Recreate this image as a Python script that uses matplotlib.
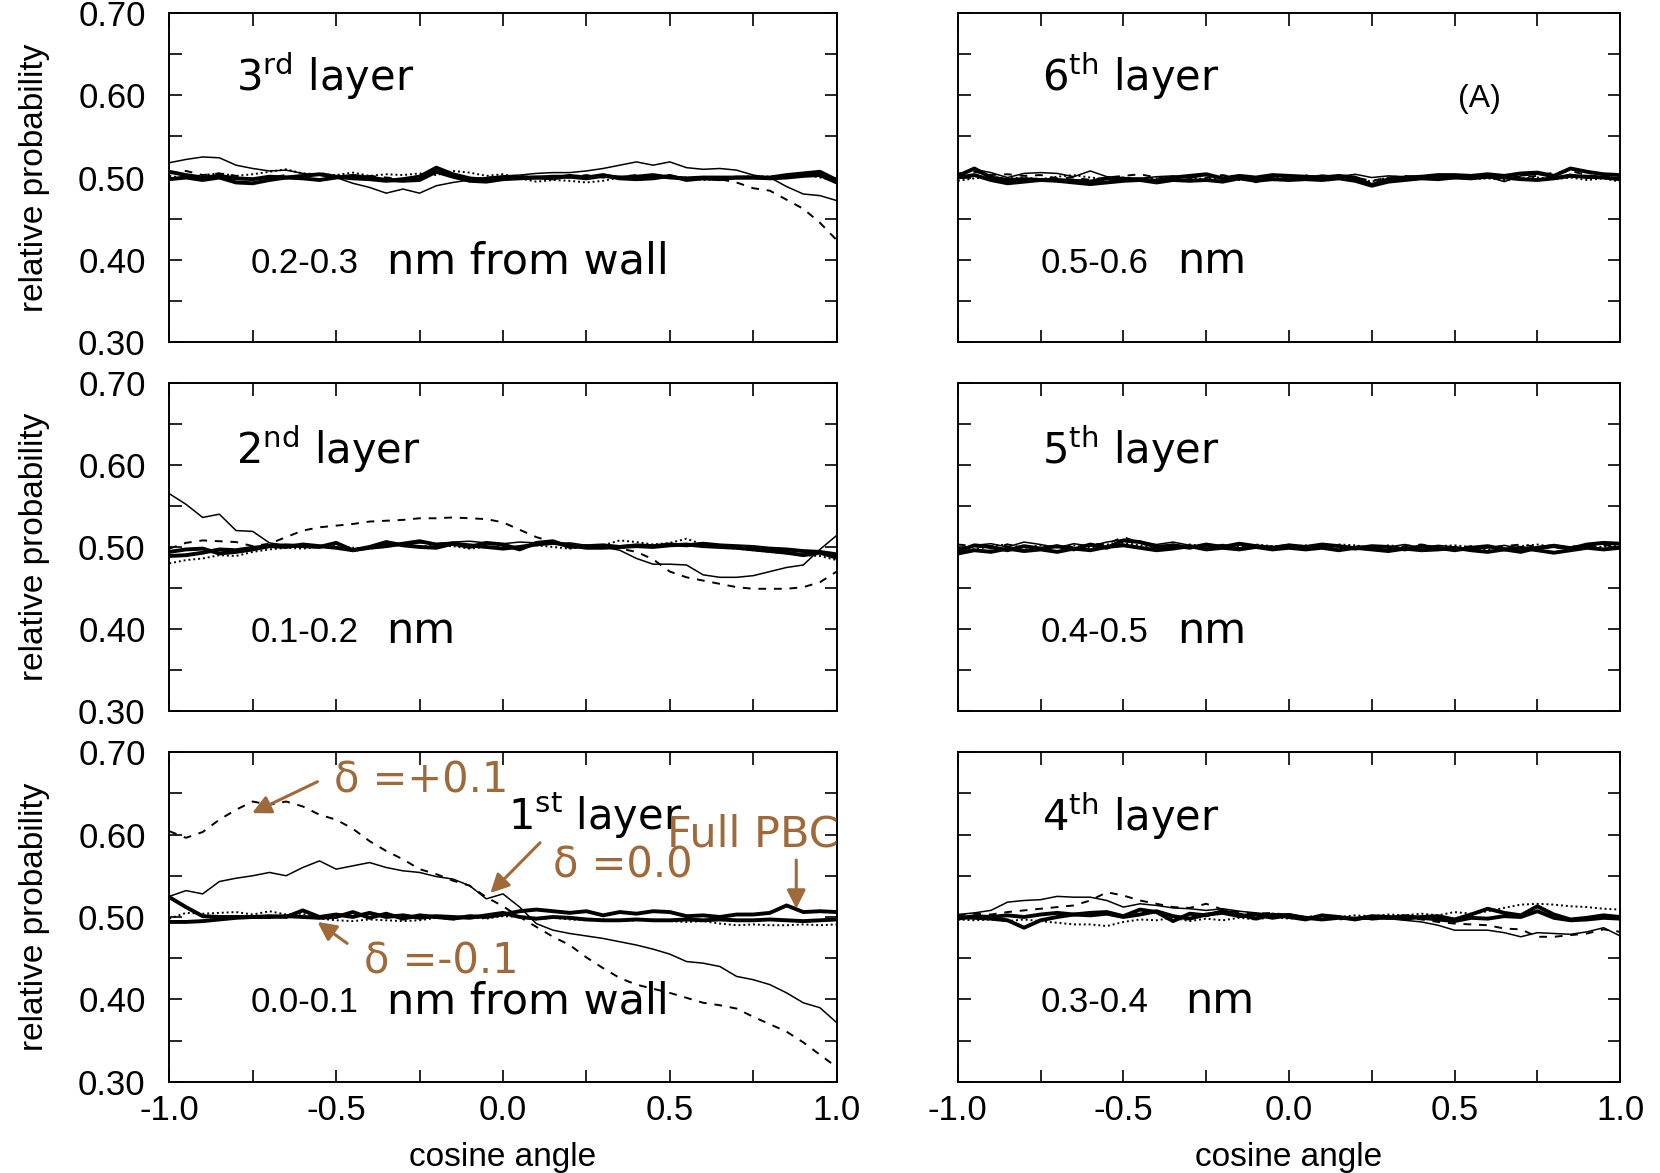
import numpy as np
import matplotlib
matplotlib.use("Agg")
import matplotlib.pyplot as plt

plt.rcParams['font.family'] = ['Liberation Sans', 'DejaVu Sans']
plt.rcParams['mathtext.fontset'] = 'dejavusans'

BROWN = '#A0693A'

# cosine of the angle, bin centres
cos_angle = np.round(np.arange(-1.0, 1.0001, 0.05), 2)

# ---- 1st layer, 0.0-0.1 nm from wall
l1_plus = [0.604, 0.596, 0.603, 0.618, 0.630, 0.640, 0.636, 0.640, 0.634, 0.624, 0.618,
           0.607, 0.592, 0.580, 0.570, 0.558, 0.552, 0.544, 0.538, 0.524, 0.513,
           0.500, 0.488, 0.476, 0.466, 0.451, 0.438, 0.426, 0.418, 0.413, 0.408,
           0.402, 0.396, 0.393, 0.389, 0.379, 0.370, 0.361, 0.348, 0.333, 0.318]
l1_zero = [0.525, 0.532, 0.528, 0.543, 0.547, 0.550, 0.554, 0.550, 0.560, 0.568, 0.558,
           0.562, 0.566, 0.560, 0.556, 0.554, 0.549, 0.546, 0.538, 0.522, 0.528,
           0.512, 0.492, 0.484, 0.480, 0.477, 0.474, 0.470, 0.466, 0.461, 0.455,
           0.446, 0.444, 0.440, 0.428, 0.424, 0.418, 0.408, 0.396, 0.390, 0.372]
l1_minus = [0.524, 0.512, 0.501, 0.500, 0.500, 0.500, 0.501, 0.500, 0.508, 0.500, 0.503,
            0.500, 0.505, 0.500, 0.502, 0.499, 0.501, 0.500, 0.499, 0.502, 0.505,
            0.500, 0.498, 0.500, 0.499, 0.497, 0.496, 0.496, 0.497, 0.496, 0.496,
            0.497, 0.496, 0.497, 0.496, 0.496, 0.497, 0.496, 0.495, 0.496, 0.497]
l1_pbc = [0.494, 0.494, 0.495, 0.497, 0.499, 0.500, 0.500, 0.501, 0.500, 0.499, 0.500,
          0.506, 0.499, 0.504, 0.498, 0.502, 0.500, 0.498, 0.501, 0.500, 0.503,
          0.507, 0.509, 0.507, 0.505, 0.507, 0.502, 0.506, 0.504, 0.507, 0.506,
          0.501, 0.502, 0.500, 0.503, 0.503, 0.505, 0.514, 0.506, 0.507, 0.506]
l1_dot = [0.498, 0.505, 0.504, 0.505, 0.506, 0.503, 0.507, 0.503, 0.504, 0.498, 0.496,
          0.495, 0.497, 0.496, 0.495, 0.496, 0.499, 0.497, 0.500, 0.498, 0.501,
          0.500, 0.497, 0.499, 0.497, 0.496, 0.497, 0.495, 0.496, 0.497, 0.495,
          0.494, 0.495, 0.492, 0.490, 0.491, 0.490, 0.490, 0.491, 0.490, 0.491]

# ---- 2nd layer, 0.1-0.2 nm
l2_plus = [0.498, 0.505, 0.508, 0.507, 0.506, 0.501, 0.504, 0.512, 0.520, 0.524, 0.526,
           0.528, 0.531, 0.532, 0.533, 0.535, 0.535, 0.536, 0.535, 0.534, 0.530,
           0.521, 0.512, 0.506, 0.503, 0.502, 0.500, 0.498, 0.494, 0.485, 0.470,
           0.463, 0.459, 0.455, 0.451, 0.449, 0.449, 0.449, 0.451, 0.457, 0.470]
l2_zero = [0.565, 0.552, 0.536, 0.540, 0.520, 0.519, 0.505, 0.502, 0.500, 0.501, 0.500,
           0.497, 0.500, 0.503, 0.502, 0.505, 0.504, 0.506, 0.507, 0.505, 0.504,
           0.506, 0.505, 0.504, 0.505, 0.502, 0.500, 0.496, 0.486, 0.479, 0.479,
           0.478, 0.466, 0.463, 0.463, 0.465, 0.470, 0.475, 0.478, 0.497, 0.514]
l2_minus = [0.494, 0.497, 0.498, 0.492, 0.494, 0.497, 0.501, 0.502, 0.501, 0.500, 0.505,
            0.496, 0.499, 0.501, 0.504, 0.507, 0.503, 0.504, 0.500, 0.505, 0.503,
            0.497, 0.505, 0.507, 0.500, 0.501, 0.502, 0.500, 0.502, 0.501, 0.503,
            0.502, 0.504, 0.502, 0.501, 0.500, 0.498, 0.497, 0.495, 0.494, 0.491]
l2_pbc = [0.489, 0.490, 0.493, 0.497, 0.496, 0.499, 0.501, 0.500, 0.503, 0.501, 0.499,
          0.496, 0.500, 0.506, 0.502, 0.500, 0.499, 0.504, 0.502, 0.500, 0.498,
          0.500, 0.503, 0.505, 0.502, 0.499, 0.499, 0.500, 0.501, 0.500, 0.502,
          0.503, 0.501, 0.500, 0.499, 0.497, 0.495, 0.493, 0.490, 0.493, 0.487]
l2_dot = [0.480, 0.484, 0.486, 0.490, 0.489, 0.494, 0.497, 0.499, 0.498, 0.500, 0.502,
          0.499, 0.498, 0.500, 0.503, 0.500, 0.502, 0.501, 0.498, 0.500, 0.501,
          0.499, 0.502, 0.500, 0.498, 0.500, 0.502, 0.508, 0.506, 0.503, 0.505,
          0.510, 0.503, 0.499, 0.498, 0.496, 0.494, 0.492, 0.490, 0.489, 0.484]

# ---- 3rd layer, 0.2-0.3 nm from wall
l3_plus = [0.505, 0.508, 0.503, 0.505, 0.502, 0.498, 0.500, 0.503, 0.500, 0.506, 0.501,
           0.499, 0.502, 0.500, 0.498, 0.502, 0.510, 0.501, 0.498, 0.500, 0.501,
           0.502, 0.500, 0.499, 0.500, 0.503, 0.500, 0.501, 0.503, 0.500, 0.502,
           0.499, 0.500, 0.498, 0.494, 0.487, 0.484, 0.473, 0.462, 0.445, 0.424]
l3_zero = [0.518, 0.522, 0.525, 0.524, 0.515, 0.511, 0.508, 0.509, 0.505, 0.503, 0.500,
           0.493, 0.488, 0.481, 0.486, 0.481, 0.490, 0.494, 0.497, 0.500, 0.502,
           0.503, 0.505, 0.506, 0.506, 0.508, 0.511, 0.515, 0.519, 0.515, 0.519,
           0.512, 0.510, 0.511, 0.509, 0.503, 0.500, 0.489, 0.480, 0.478, 0.472]
l3_minus = [0.507, 0.503, 0.500, 0.502, 0.499, 0.498, 0.501, 0.500, 0.502, 0.504, 0.501,
            0.499, 0.498, 0.496, 0.498, 0.501, 0.512, 0.504, 0.499, 0.497, 0.500,
            0.500, 0.500, 0.501, 0.501, 0.499, 0.502, 0.500, 0.501, 0.503, 0.500,
            0.499, 0.500, 0.500, 0.500, 0.500, 0.500, 0.503, 0.505, 0.507, 0.497]
l3_pbc = [0.498, 0.500, 0.497, 0.500, 0.494, 0.493, 0.497, 0.500, 0.499, 0.497, 0.500,
          0.502, 0.500, 0.497, 0.496, 0.497, 0.507, 0.501, 0.496, 0.495, 0.498,
          0.499, 0.500, 0.499, 0.502, 0.500, 0.503, 0.499, 0.498, 0.499, 0.502,
          0.497, 0.499, 0.498, 0.500, 0.500, 0.499, 0.500, 0.502, 0.503, 0.494]
l3_dot = [0.502, 0.499, 0.503, 0.505, 0.502, 0.504, 0.507, 0.510, 0.505, 0.504, 0.503,
          0.506, 0.502, 0.504, 0.503, 0.505, 0.503, 0.508, 0.506, 0.502, 0.504,
          0.499, 0.495, 0.497, 0.496, 0.494, 0.496, 0.500, 0.497, 0.499, 0.501,
          0.500, 0.497, 0.498, 0.500, 0.502, 0.501, 0.503, 0.504, 0.500, 0.496]

# ---- 4th layer, 0.3-0.4 nm
l4_plus = [0.502, 0.504, 0.503, 0.506, 0.508, 0.510, 0.512, 0.514, 0.520, 0.530, 0.526,
           0.520, 0.516, 0.512, 0.511, 0.516, 0.509, 0.506, 0.504, 0.505, 0.502,
           0.500, 0.499, 0.497, 0.499, 0.497, 0.498, 0.499, 0.497, 0.494, 0.492,
           0.491, 0.490, 0.486, 0.485, 0.476, 0.476, 0.478, 0.480, 0.485, 0.482]
l4_zero = [0.503, 0.505, 0.508, 0.518, 0.520, 0.521, 0.525, 0.524, 0.524, 0.520, 0.512,
           0.516, 0.514, 0.511, 0.510, 0.508, 0.510, 0.507, 0.505, 0.503, 0.504,
           0.500, 0.498, 0.500, 0.498, 0.497, 0.498, 0.496, 0.494, 0.490, 0.484,
           0.484, 0.484, 0.481, 0.476, 0.481, 0.480, 0.479, 0.482, 0.487, 0.477]
l4_minus = [0.500, 0.499, 0.498, 0.496, 0.487, 0.496, 0.500, 0.503, 0.505, 0.506, 0.501,
            0.509, 0.506, 0.495, 0.504, 0.502, 0.507, 0.503, 0.498, 0.503, 0.500,
            0.497, 0.502, 0.500, 0.497, 0.501, 0.500, 0.498, 0.500, 0.501, 0.497,
            0.503, 0.510, 0.505, 0.502, 0.513, 0.503, 0.497, 0.499, 0.502, 0.500]
l4_pbc = [0.498, 0.501, 0.500, 0.502, 0.500, 0.503, 0.505, 0.503, 0.502, 0.504, 0.500,
          0.503, 0.507, 0.501, 0.498, 0.503, 0.505, 0.501, 0.503, 0.499, 0.502,
          0.499, 0.497, 0.499, 0.498, 0.500, 0.499, 0.501, 0.499, 0.497, 0.495,
          0.499, 0.498, 0.501, 0.500, 0.507, 0.499, 0.496, 0.497, 0.499, 0.498]
l4_dot = [0.497, 0.496, 0.497, 0.495, 0.497, 0.495, 0.493, 0.491, 0.491, 0.489, 0.494,
          0.497, 0.496, 0.499, 0.495, 0.498, 0.496, 0.499, 0.497, 0.500, 0.498,
          0.500, 0.502, 0.500, 0.502, 0.501, 0.503, 0.502, 0.504, 0.502, 0.506,
          0.504, 0.507, 0.511, 0.515, 0.516, 0.515, 0.513, 0.512, 0.510, 0.509]

# ---- 5th layer, 0.4-0.5 nm
l5_plus = [0.503, 0.501, 0.498, 0.503, 0.500, 0.497, 0.502, 0.500, 0.503, 0.504, 0.512,
           0.505, 0.501, 0.503, 0.500, 0.498, 0.501, 0.503, 0.499, 0.501, 0.498,
           0.500, 0.502, 0.499, 0.501, 0.500, 0.498, 0.501, 0.503, 0.500, 0.498,
           0.501, 0.499, 0.501, 0.503, 0.500, 0.498, 0.501, 0.500, 0.502, 0.501]
l5_zero = [0.497, 0.502, 0.504, 0.500, 0.506, 0.503, 0.499, 0.504, 0.501, 0.506, 0.509,
           0.507, 0.503, 0.506, 0.502, 0.500, 0.503, 0.499, 0.502, 0.500, 0.503,
           0.500, 0.499, 0.502, 0.500, 0.497, 0.500, 0.503, 0.499, 0.502, 0.500,
           0.497, 0.499, 0.502, 0.498, 0.500, 0.503, 0.500, 0.502, 0.504, 0.503]
l5_minus = [0.495, 0.502, 0.500, 0.496, 0.501, 0.498, 0.501, 0.497, 0.503, 0.499, 0.508,
            0.506, 0.500, 0.502, 0.499, 0.503, 0.500, 0.504, 0.501, 0.499, 0.502,
            0.500, 0.503, 0.501, 0.498, 0.501, 0.500, 0.497, 0.501, 0.499, 0.496,
            0.499, 0.501, 0.497, 0.494, 0.499, 0.501, 0.498, 0.503, 0.505, 0.504]
l5_pbc = [0.492, 0.496, 0.494, 0.498, 0.495, 0.497, 0.494, 0.498, 0.496, 0.500, 0.502,
          0.499, 0.496, 0.498, 0.501, 0.497, 0.499, 0.497, 0.500, 0.497, 0.499,
          0.497, 0.499, 0.496, 0.499, 0.497, 0.495, 0.498, 0.496, 0.497, 0.499,
          0.496, 0.494, 0.497, 0.499, 0.496, 0.493, 0.496, 0.499, 0.497, 0.499]
l5_dot = [0.499, 0.497, 0.501, 0.503, 0.499, 0.502, 0.500, 0.502, 0.499, 0.503, 0.505,
          0.502, 0.499, 0.501, 0.503, 0.501, 0.498, 0.500, 0.503, 0.501, 0.500,
          0.502, 0.500, 0.503, 0.502, 0.499, 0.502, 0.500, 0.498, 0.501, 0.502,
          0.500, 0.497, 0.499, 0.501, 0.503, 0.500, 0.498, 0.501, 0.500, 0.502]

# ---- 6th layer, 0.5-0.6 nm
l6_plus = [0.505, 0.507, 0.503, 0.504, 0.502, 0.503, 0.499, 0.500, 0.497, 0.500, 0.502,
           0.504, 0.500, 0.498, 0.502, 0.500, 0.503, 0.499, 0.500, 0.502, 0.499,
           0.502, 0.500, 0.498, 0.500, 0.496, 0.500, 0.502, 0.500, 0.501, 0.499,
           0.502, 0.500, 0.503, 0.500, 0.502, 0.506, 0.508, 0.503, 0.500, 0.499]
l6_zero = [0.503, 0.510, 0.506, 0.500, 0.505, 0.506, 0.505, 0.501, 0.508, 0.501, 0.500,
           0.499, 0.501, 0.502, 0.499, 0.503, 0.500, 0.502, 0.494, 0.501, 0.502,
           0.500, 0.503, 0.501, 0.504, 0.500, 0.502, 0.501, 0.502, 0.502, 0.503,
           0.500, 0.501, 0.495, 0.502, 0.504, 0.500, 0.504, 0.499, 0.501, 0.497]
l6_minus = [0.502, 0.511, 0.500, 0.497, 0.498, 0.497, 0.497, 0.496, 0.495, 0.499, 0.497,
            0.498, 0.496, 0.500, 0.502, 0.504, 0.499, 0.502, 0.500, 0.503, 0.502,
            0.501, 0.500, 0.502, 0.500, 0.491, 0.498, 0.500, 0.501, 0.503, 0.503,
            0.502, 0.504, 0.502, 0.505, 0.506, 0.502, 0.511, 0.507, 0.504, 0.503]
l6_pbc = [0.500, 0.503, 0.497, 0.493, 0.495, 0.497, 0.496, 0.494, 0.492, 0.494, 0.496,
          0.497, 0.494, 0.497, 0.496, 0.497, 0.495, 0.499, 0.496, 0.498, 0.497,
          0.498, 0.497, 0.499, 0.496, 0.490, 0.495, 0.497, 0.499, 0.498, 0.500,
          0.499, 0.501, 0.500, 0.498, 0.497, 0.499, 0.502, 0.501, 0.500, 0.498]
l6_dot = [0.496, 0.499, 0.501, 0.499, 0.500, 0.498, 0.501, 0.503, 0.500, 0.498, 0.500,
          0.497, 0.499, 0.501, 0.500, 0.498, 0.500, 0.497, 0.499, 0.500, 0.499,
          0.503, 0.498, 0.500, 0.499, 0.495, 0.500, 0.499, 0.498, 0.500, 0.501,
          0.498, 0.499, 0.497, 0.499, 0.500, 0.498, 0.500, 0.497, 0.499, 0.495]

# panel labels: (ordinal, suffix, distance range, unit text)
layer_info = {
    1: ('1', 'st', '0.0-0.1', 'nm from wall'),
    2: ('2', 'nd', '0.1-0.2', 'nm'),
    3: ('3', 'rd', '0.2-0.3', 'nm from wall'),
    4: ('4', 'th', '0.3-0.4', 'nm'),
    5: ('5', 'th', '0.4-0.5', 'nm'),
    6: ('6', 'th', '0.5-0.6', 'nm'),
}
layer_data = {
    1: (l1_plus, l1_zero, l1_minus, l1_pbc, l1_dot),
    2: (l2_plus, l2_zero, l2_minus, l2_pbc, l2_dot),
    3: (l3_plus, l3_zero, l3_minus, l3_pbc, l3_dot),
    4: (l4_plus, l4_zero, l4_minus, l4_pbc, l4_dot),
    5: (l5_plus, l5_zero, l5_minus, l5_pbc, l5_dot),
    6: (l6_plus, l6_zero, l6_minus, l6_pbc, l6_dot),
}

fig = plt.figure(figsize=(16.6, 11.73), dpi=100)

col_left = [0.102, 0.577]
col_width = [0.402, 0.399]
row_bottom = [0.7084, 0.3939, 0.0776]
row_height = [0.2805, 0.2796, 0.2813]
# grid position -> layer number
layout = {(0, 0): 3, (0, 1): 6, (1, 0): 2, (1, 1): 5, (2, 0): 1, (2, 1): 4}

axes = {}
for (r, c), layer in layout.items():
    ax = fig.add_axes([col_left[c], row_bottom[r], col_width[c], row_height[r]])
    axes[layer] = ax
    plus, zero, minus, pbc, dot = layer_data[layer]
    ax.plot(cos_angle, plus, color='black', lw=1.4, ls=(0, (4, 4)))
    ax.plot(cos_angle, zero, color='black', lw=1.1)
    ax.plot(cos_angle, dot, color='black', lw=1.4, ls=(0, (1, 1.5)))
    ax.plot(cos_angle, minus, color='black', lw=2.8)
    ax.plot(cos_angle, pbc, color='black', lw=2.8)

    ax.set_xlim(-1.0, 1.0)
    ax.set_ylim(0.30, 0.70)
    ax.set_xticks(np.arange(-1.0, 1.01, 0.25))
    ax.set_yticks(np.arange(0.30, 0.701, 0.05))
    ax.tick_params(direction='in', length=9, width=1.2, top=True, right=True,
                   labelsize=25)
    ax.tick_params(axis='y', pad=17)
    ax.tick_params(axis='x', pad=9)
    for sp in ax.spines.values():
        sp.set_linewidth(1.4)

    if c == 0:
        ax.set_yticklabels(['%.2f' % v if i % 2 == 0 else ''
                            for i, v in enumerate(np.arange(0.30, 0.701, 0.05))])
    else:
        ax.set_yticklabels([])
    if r == 2:
        ax.set_xticklabels(['%.1f' % v if i % 2 == 0 else ''
                            for i, v in enumerate(np.arange(-1.0, 1.01, 0.25))])
    else:
        ax.set_xticklabels([])

    num, suf, rng, unit = layer_info[layer]
    lx = -0.80 if c == 0 else -0.745
    ly = 0.623 if layer not in (2, 5) else 0.619
    if layer == 1:
        lx = 0.016
    ax.text(lx, ly, num + r'$^{\mathrm{' + suf + '}}$ layer', family='DejaVu Sans',
            fontsize=30, va='center', ha='left')
    rx = -0.756 if c == 0 else -0.75
    ry = 0.396
    ax.text(rx, ry, rng, fontsize=25, va='center', ha='left')
    ux = -0.349 if c == 0 else (-0.313 if layer == 4 else -0.339)
    ax.text(ux, ry + 0.002, unit, family='DejaVu Sans', fontsize=31,
            va='center', ha='left')

axes[6].text(0.575, 0.596, '(A)', fontsize=23, ha='center', va='center')

# labels for the four curves in the first layer
ax1 = axes[1]
arrow = dict(arrowstyle='-|>', color=BROWN, lw=2.2, mutation_scale=28,
             shrinkA=0, shrinkB=0)
note_kw = dict(color=BROWN, fontsize=30, family='DejaVu Sans', va='center', ha='left')
ax1.annotate('', xy=(-0.752, 0.626), xytext=(-0.556, 0.664), arrowprops=arrow)
ax1.text(-0.505, 0.665, 'δ =+0.1', **note_kw)
ax1.annotate('', xy=(-0.038, 0.529), xytext=(0.111, 0.590), arrowprops=arrow)
ax1.text(0.149, 0.562, 'δ =0.0', **note_kw)
ax1.annotate('', xy=(-0.556, 0.494), xytext=(-0.467, 0.468), arrowprops=arrow)
ax1.text(-0.416, 0.446, 'δ =-0.1', **note_kw)
ax1.annotate('', xy=(0.879, 0.510), xytext=(0.879, 0.569), arrowprops=arrow)
ax1.text(0.492, 0.600, 'Full PBC', clip_on=False, **dict(note_kw, fontsize=31))

# shared axis titles
for r in range(3):
    fig.text(0.021, row_bottom[r] + row_height[r] / 2, 'relative probability',
             rotation=90, fontsize=24, ha='center', va='center')
for c in range(2):
    fig.text(col_left[c] + col_width[c] / 2, 0.013, 'cosine angle',
             fontsize=24, ha='center', va='center')

fig.savefig('out.png', dpi=100)
